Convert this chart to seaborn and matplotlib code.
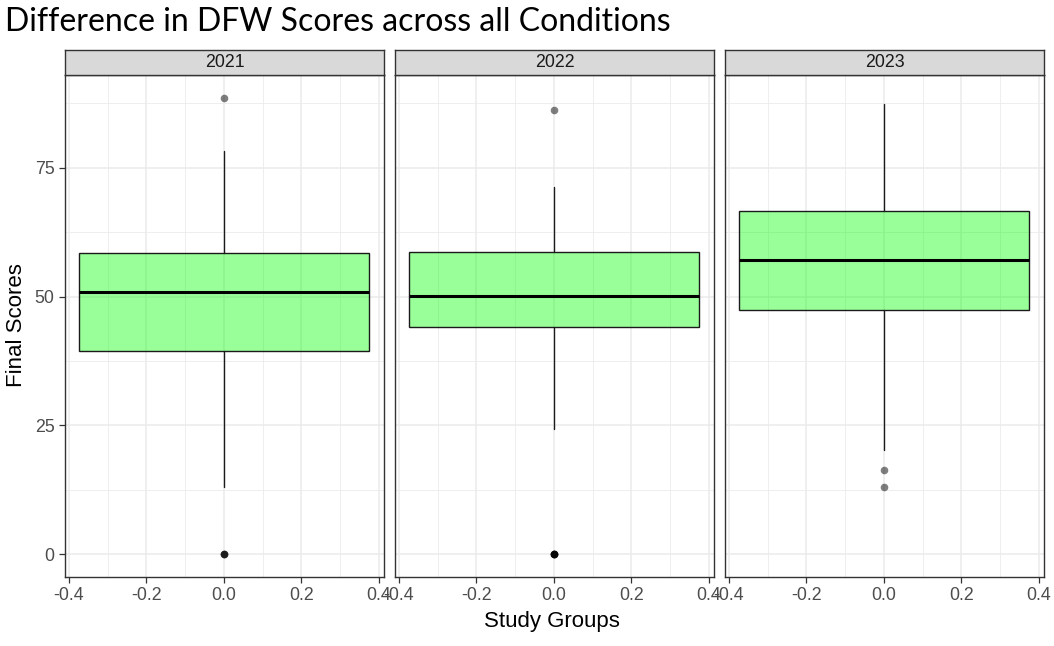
import matplotlib
matplotlib.use("Agg")
import matplotlib.pyplot as plt
import pandas as pd
import seaborn as sns
from matplotlib.ticker import MultipleLocator

# box summary per year
years = ["2021", "2022", "2023"]
whisker_low = [13.0, 24.3, 20.2]
q1 = [39.4, 44.1, 47.4]
median = [50.9, 50.1, 57.1]
q3 = [58.4, 58.6, 66.6]
whisker_high = [78.3, 71.3, 87.4]

# outliers (the dark dots at 0 are several stacked points)
outlier_year = ["2021", "2021", "2021", "2021", "2022", "2022", "2022", "2022", "2022", "2022", "2023", "2023"]
outlier_score = [88.5, 0, 0, 0, 86.2, 0, 0, 0, 0, 0, 16.3, 13.0]

W, H = 1054, 646
panel_left = [65, 395, 725]
panel_width = 319
panel_top = 75
panel_bottom = 577
strip_h = 25


def main():
    sns.set_theme(style="whitegrid")
    plt.rcParams["font.family"] = ["Liberation Sans", "DejaVu Sans"]

    outliers = pd.DataFrame({"year": outlier_year, "score": outlier_score})
    outliers["group"] = 0.0

    fig = plt.figure(figsize=(W / 100, H / 100), dpi=100)

    for i, year in enumerate(years):
        ax = fig.add_axes([panel_left[i] / W, 1 - panel_bottom / H,
                           panel_width / W, (panel_bottom - panel_top) / H])
        ax.set_facecolor("white")
        ax.set_axisbelow(True)

        stats = [{"whislo": whisker_low[i], "q1": q1[i], "med": median[i],
                  "q3": q3[i], "whishi": whisker_high[i], "fliers": []}]
        ax.bxp(stats, positions=[0], widths=0.75, patch_artist=True,
               showcaps=False, manage_ticks=False,
               boxprops=dict(facecolor=(0, 1, 0, 0.4), edgecolor="#1a1a1a", linewidth=1.0),
               medianprops=dict(color="black", linewidth=2.2),
               whiskerprops=dict(color="#1a1a1a", linewidth=1.0))

        sns.scatterplot(data=outliers[outliers["year"] == year], x="group", y="score",
                        ax=ax, color="black", alpha=0.5, s=30, linewidth=0, zorder=3)

        ax.set_xlim(-0.41, 0.413)
        ax.set_ylim(-4.45, 93.0)
        ax.xaxis.set_major_locator(MultipleLocator(0.2))
        ax.xaxis.set_minor_locator(MultipleLocator(0.1))
        ax.yaxis.set_major_locator(MultipleLocator(25))
        ax.yaxis.set_minor_locator(MultipleLocator(12.5))
        ax.grid(which="major", color="#EBEBEB", linewidth=1.1)
        ax.grid(which="minor", color="#EBEBEB", linewidth=0.6)

        ax.tick_params(which="major", bottom=True, left=(i == 0), length=4.5, width=0.9,
                       color="#333333", labelcolor="#4D4D4D", labelsize=12.8, pad=3)
        ax.tick_params(which="minor", length=0)
        ax.set_xticks([-0.4, -0.2, 0.0, 0.2, 0.4])
        ax.set_xticklabels(["-0.4", "-0.2", "0.0", "0.2", "0.4"])
        if i > 0:
            ax.set_yticklabels([])
        ax.set_xlabel("")
        ax.set_ylabel("")
        for sp in ax.spines.values():
            sp.set_visible(True)
            sp.set_color("#333333")
            sp.set_linewidth(1.0)

        strip = fig.add_axes([panel_left[i] / W, 1 - panel_top / H,
                              panel_width / W, strip_h / H])
        strip.set_facecolor("#D9D9D9")
        strip.set_xticks([])
        strip.set_yticks([])
        strip.grid(False)
        for sp in strip.spines.values():
            sp.set_visible(True)
            sp.set_color("#333333")
            sp.set_linewidth(1.0)
        strip.text(0.5, 0.5, year, ha="center", va="center", fontsize=12.8,
                   color="#1A1A1A", transform=strip.transAxes)

    fig.text(5 / W, 1 - 22 / H, "Difference in DFW Scores across all Conditions",
             fontsize=23, family=["Lato", "DejaVu Sans"], va="center", ha="left", color="black")
    fig.text(17 / W, 1 - 325 / H, "Final Scores", rotation=90, fontsize=16,
             ha="center", va="center", color="black")
    fig.text(552 / W, 1 - 622 / H, "Study Groups", fontsize=16,
             ha="center", va="center", color="black")

    fig.savefig("out.png", dpi=100, facecolor="white")
    plt.close(fig)


if __name__ == "__main__":
    main()
